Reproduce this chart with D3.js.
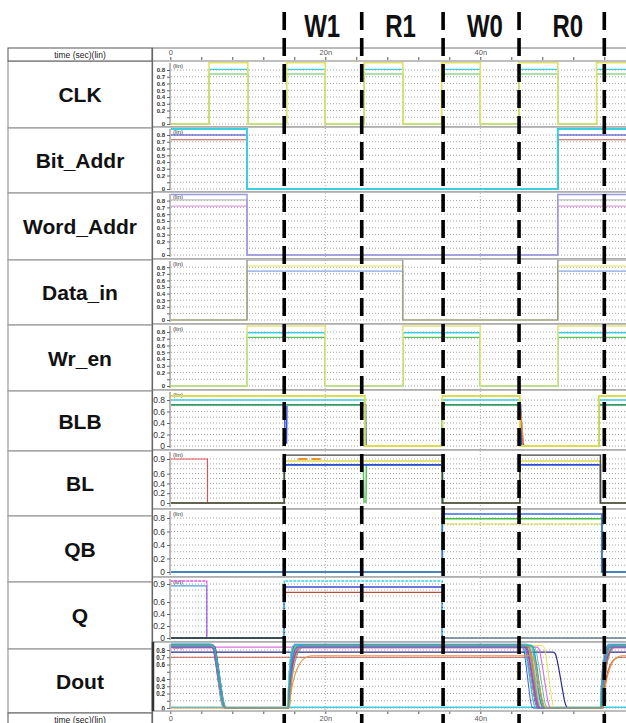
<!DOCTYPE html>
<html><head><meta charset="utf-8">
<script src="https://cdn.jsdelivr.net/npm/d3@7"></script>
<style>body{margin:0;background:#fff}svg{display:block}</style>
</head><body>
<svg id="c" width="626" height="723"></svg>
<script>
// ================= DATA =================
const signalNames = ["CLK","Bit_Addr","Word_Addr","Data_in","Wr_en","BLB","BL","QB","Q","Dout"];
const phaseNames = ["W1","R1","W0","R0"];
const phaseLabelTimes = [19.6, 29.7, 40.6, 51.3];
const phaseBoundaryTimes = [14.7, 24.7, 35.2, 45.0, 56.0];
const timeTicks = [0,4,8,12,16,20,24,28,32,36,40,44,48,52,56];
const timeTickLabels = {0:"0", 20:"20n", 40:"40n"};

// y tick values / labels per panel
const yTicks8 = [0,0.1,0.2,0.3,0.4,0.5,0.6,0.7,0.8];
const yLabels8 = ["0","","0.2","0.3","0.4","0.5","0.6","0.7","0.8"];
const yTicksEven = [0,0.2,0.4,0.6,0.8];
const yLabelsEven = ["0","0.2","0.4","0.6","0.8"];
const yTicksNine = [0,0.2,0.4,0.6,0.9];
const yLabelsNine = ["0","0.2","0.4","0.6","0.9"];
const yTicksDout = [0,0.1,0.2,0.3,0.4,0.5,0.6,0.7,0.8];
const yLabelsDout = ["0","","0.2","0.3","0.4","","0.6","0.7","0.8"];
const gridTo08 = [0.1,0.2,0.3,0.4,0.5,0.6,0.7,0.8];
const gridTo09 = [0.1,0.2,0.3,0.4,0.5,0.6,0.7,0.8,0.9];

// digital waveforms: switching times (ns) and high levels (V)
const clkEdges = [5,10,15,20,25,30,35,40,45,50,55];      // starts low
const clkLevels = [0.74, 0.81, 0.91];                    // green, cyan, yellow
const bitAddrEdges = [9.9, 50];                          // starts high
const bitAddrLevels = [0.73, 0.80, 0.89];                // red, blue, cyan
const wordAddrEdges = [9.9, 50];                         // starts high
const wordAddrLevels = [0.72, 0.81, 0.89];               // pink, gray, lavender
const dataInEdges = [9.9, 30, 50];                       // starts low
const dataInLevels = [0.74, 0.82, 0.91];                 // light blue, yellow, gray
const wrEnEdges = [9.9, 20, 30, 40, 50];                 // starts low
const wrEnLevels = [0.72, 0.79, 0.89];                   // green, cyan, yellow
const blbEdges = [25.1, 35.1, 45.1, 55.3];               // starts high
const blbLevels = [0.71, 0.80, 0.87];                    // green, cyan, yellow
const blbBlue = [[0,0.72],[14.75,0.72],[14.8,0.05],[15.0,0.05],[15.05,0.72],[25.2,0.72],[25.25,0],[35.0,0],[35.05,0.72],[45.2,0.72],[45.35,0],[55.3,0],[55.35,0.72],[60,0.72]];
const blbRed = [[44.9,0.70],[45.15,0.68],[45.45,0.15],[45.6,0]];
const blbOrange = [[45.0,0.62],[45.3,0.5],[45.55,0.05]];
const blEdges = [14.7, 35.1, 45.1, 55.5];                // starts low
const blLevels = [0.78, 0.86, 0.98];                     // blue, yellow, dark
const blRed = [[0,0.9],[4.8,0.9],[4.8,0],[14.6,0]];
const blGreen = [[14.7,0],[14.75,0.78],[24.9,0.78],[25.0,0.02],[25.25,0.02],[25.3,0.78],[35.1,0.78],[35.2,0]];
const blOrangeDash1 = [[16.5,0.9],[17.7,0.9]];
const blOrangeDash2 = [[18.2,0.9],[19.4,0.9]];
const qbEdges = [35.1, 55.7];                            // starts low
const qbLevels = [0.71, 0.79, 0.86];                     // yellow, green, blue
const qEdges = [14.7, 35.1];                             // starts low
const qLevels = [0.76, 0.85, 0.95];                      // red, blue, cyan
const qMagentaInit = [[0,0.95],[4.7,0.95],[4.7,0]];
const qLightBlueInit = [[0,0.87],[4.7,0.87],[4.7,0]];
const qLowDark = [[0,0],[14.7,0]];
const qLowLater = [[35.5,0],[60,0]];

// Dout: bundle of output traces (edge start times and durations, ns)
const doutLevel  = [0.87,0.85,0.86,0.84,0.86,0.83,0.88,0.85,0.84,0.87,0.86,0.85,0.83,0.86,0.87,0.84,0.85,0.86,0.84,0.87];
const doutFall1  = [5.2,5.25,5.3,5.35,5.22,5.4,5.28,5.45,5.33,5.5,5.38,5.27,5.42,5.31,5.36,5.24,5.47,5.29,5.34,5.41];
const doutFall1D = [1.7,1.8,1.6,1.9,1.75,1.7,1.85,1.65,1.8,1.7,1.9,1.75,1.8,1.7,1.6,1.85,1.7,1.8,1.75,1.65];
const doutRise1  = [15.15,15.2,15.1,15.25,15.3,15.18,15.22,15.12,15.28,15.2,15.35,15.16,15.24,15.3,15.14,15.26,15.2,15.32,15.18,15.22];
const doutRise1D = [0.9,1.1,1.3,1.0,1.6,1.2,0.8,1.4,1.8,1.0,2.2,1.1,1.5,1.3,0.9,1.7,1.2,2.0,1.4,1.0];
const doutFall2  = [45.3,45.5,48.0,45.4,45.8,45.7,46.0,45.9,46.2,45.5,46.4,46.1,45.6,46.6,46.3,45.8,46.8,46.0,45.7,46.5];
const doutFall2D = [1.5,1.7,1.6,1.8,1.6,1.9,1.7,1.8,1.6,2.0,1.7,1.8,1.9,1.7,1.6,1.8,1.9,1.7,2.0,1.8];
const doutRise2  = [55.5,55.6,55.55,55.7,55.65,55.6,55.75,55.5,55.8,55.6,55.7,55.55,55.65,55.8,55.6,55.7,55.5,55.75,55.6,55.65];
const doutRise2D = [1.0,1.3,0.9,1.6,1.1,1.8,0.8,1.2,1.5,1.0,2.0,1.1,1.4,1.7,0.9,1.3,1.2,1.9,1.0,1.5];
// special Dout traces: [level, fall start, fall dur, rise start, rise dur]
const doutPink   = [0.84, 47.3, 1.8, 55.6, 1.1];
const doutNavy   = [0.77, 49.4, 1.9, 55.6, 1.3];
const doutRed    = [0.70, 46.2, 2.0, 55.7, 2.3];
const doutOrange = [0.72, 15.3, 3.0, 46.5, 2.0, 55.8, 2.5];
const doutCyanTopInit = [[0,0.88],[5.2,0.88]];
const doutCyanLow = [[0,0.01],[60,0.01]];
// edge shapes (fraction of duration, fraction of swing)
const fallShape = [[0,0],[0.15,0.03],[0.35,0.25],[0.6,0.62],[0.8,0.9],[1,1]];
const riseShape = [[0,0],[0.1,0.32],[0.25,0.62],[0.45,0.84],[0.7,0.96],[1,1]];

// ================= LAYOUT / STYLE =================
const W = 626, H = 723, tEnd = 60;
const leftSeps  = [61,128,193,260,325,391,451,516,582,649,713];
const rightSeps = [61,127,192,259,324,390,450,509,577,642,711];
const yZero  = [124,189,255,320,386,446,503,572,638,708];
const pxPerV = [67.5,67.5,68,66,67.5,57.5,48.9,67.5,60,72.5];
const C = {yellow:"#dcdc50", cyan:"#3ccfdf", green:"#58c458", blue:"#3636c4", red:"#c85656",
  lav:"#9898e4", gray:"#bdbdbd", pink:"#e49ce4", dgray:"#6e6e6e", lblue:"#84a4e4", dark:"#3a3a3a",
  magenta:"#e050e0", orange:"#e8923c", navy:"#2a2a90", lightblue:"#4aa0e0"};
const bundleColors = ["#3040e0","#20b040","#e0e040","#30d0e0","#8040d0","#e040c0","#2080ff","#60d060","#d03030","#2020a0",
  "#20a0a0","#c0c020","#f080c0","#4060c0","#80e0e0","#a040a0","#40c080","#e08040","#6060ff","#00c0c0"];

const x = d3.scaleLinear().domain([0,40]).range([170.3, 480.3]);

function stepPts(edges, startHigh, hi){
  const pts=[[0,startHigh?hi:0]]; let s=startHigh;
  edges.forEach(e=>{pts.push([e,s?hi:0]); s=!s; pts.push([e,s?hi:0]);});
  pts.push([tEnd,s?hi:0]); return pts;
}
function edge(t0,dur,from,to,shape){ return shape.map(([f,v])=>[t0+f*dur, from+(to-from)*v]); }
function bundleTrace(i){
  const L=doutLevel[i];
  return [[0,L]].concat(edge(doutFall1[i],doutFall1D[i],L,0,fallShape),
    edge(doutRise1[i],doutRise1D[i],0,L,riseShape),
    edge(doutFall2[i],doutFall2D[i],L,0,fallShape),
    edge(doutRise2[i],doutRise2D[i],0,L,riseShape),[[tEnd,L]]);
}
function specialTrace(a){
  return [[0,a[0]]].concat(edge(a[1],a[2],a[0],0,fallShape),edge(a[3],a[4],0,a[0],riseShape),[[tEnd,a[0]]]);
}
const T=(pts,c,w,extra)=>Object.assign({pts,c,w:w||1.2},extra||{});

const panelTraces = [
  [T(stepPts(clkEdges,false,clkLevels[0]),C.green,1.1),T(stepPts(clkEdges,false,clkLevels[1]),C.cyan,1.1),T(stepPts(clkEdges,false,clkLevels[2]),"#e2e262",1.6)],
  [T(stepPts(bitAddrEdges,true,bitAddrLevels[0]),C.red),T(stepPts(bitAddrEdges,true,bitAddrLevels[1]),C.blue),T(stepPts(bitAddrEdges,true,bitAddrLevels[2]),C.cyan,2)],
  [T(stepPts(wordAddrEdges,true,wordAddrLevels[0]),C.pink),T(stepPts(wordAddrEdges,true,wordAddrLevels[1]),C.gray),T(stepPts(wordAddrEdges,true,wordAddrLevels[2]),C.lav,1.5)],
  [T(stepPts(dataInEdges,false,dataInLevels[0]),C.lblue),T(stepPts(dataInEdges,false,dataInLevels[1]),"#eeee90",1.5),T(stepPts(dataInEdges,false,dataInLevels[2]),"#8a8a8a")],
  [T(stepPts(wrEnEdges,false,wrEnLevels[0]),C.green,1.4),T(stepPts(wrEnEdges,false,wrEnLevels[1]),C.cyan,1.4),T(stepPts(wrEnEdges,false,wrEnLevels[2]),"#e4e47a",1.6)],
  [T(blbBlue,"#2b4bd8",1.4),T(stepPts(blbEdges,true,blbLevels[0]),C.green,1.6),T(stepPts(blbEdges,true,blbLevels[1]),C.cyan,1.5),T(blbRed,C.red,1.5),T(blbOrange,C.orange,1.2),T(stepPts(blbEdges,true,blbLevels[2]),C.yellow,1.8)],
  [T(blRed,"#e05050"),T(blGreen,C.green,1.5),T(stepPts(blEdges,false,blLevels[0]),"#2b4bd8",1.6),T(stepPts(blEdges,false,blLevels[1]),C.yellow,1.5),T(stepPts(blEdges,false,blLevels[2]),"#444",1.4),T(blOrangeDash1,C.orange,2),T(blOrangeDash2,C.orange,2)],
  [T(stepPts(qbEdges,false,qbLevels[0]),C.yellow,1.5,{dash:"3,1"}),T(stepPts(qbEdges,false,qbLevels[1]),"#40c040",1.5),T(stepPts(qbEdges,false,qbLevels[2]),"#3a6ee0",1.6)],
  [T(qLightBlueInit,C.lightblue,1.3),T(qMagentaInit,C.magenta,1.3,{dash:"3,1"}),T(stepPts(qEdges,false,qLevels[0]),"#b84a3a",1.4),T(stepPts(qEdges,false,qLevels[1]),"#3a4ad0",1.4),T(stepPts(qEdges,false,qLevels[2]),C.cyan,1.4,{dash:"3,1"}),T(qLowDark,"#333",1.5),T(qLowLater,"#999",1.5)],
  []
];
// Dout traces
(function(){
  const d=panelTraces[9];
  d.push(T(doutCyanLow,C.cyan,1.5));
  d.push(T(specialTrace(doutRed),"#c06050",1.2,{curve:true}));
  d.push(T(specialTrace(doutNavy),C.navy,1.2,{curve:true}));
  d.push(T(specialTrace(doutPink),"#e070e0",1.2,{curve:true}));
  d.push(T(doutCyanTopInit,C.cyan,1.5));
  doutLevel.forEach((_,i)=>d.push(T(bundleTrace(i),bundleColors[i],0.9,{curve:true})));
  const o=doutOrange;
  d.push(T([[0,0],[o[1]-0.01,0]].concat(edge(o[1],o[2],0,o[0],riseShape),edge(o[3],o[4],o[0],0,fallShape),edge(o[5],o[6],0,o[0],riseShape),[[tEnd,o[0]]]),C.orange,1.1,{curve:true}));
})();
const yTickSets = [[yTicks8,yLabels8],[yTicks8,yLabels8],[yTicks8,yLabels8],[yTicks8,yLabels8],[yTicks8,yLabels8],
  [yTicksEven,yLabelsEven],[yTicksNine,yLabelsNine],[yTicksEven,yLabelsEven],[yTicksNine,yLabelsNine],[yTicksDout,yLabelsDout]];
const gridSets = [gridTo08,gridTo08,gridTo08,gridTo08,gridTo08,gridTo08,gridTo09,gridTo08,gridTo09,gridTo08];
const tickFont = [6,6,6,6,6,8.5,8.5,8.5,8.5,6.3];

// ================= DRAW =================
const svg = d3.select("#c");
const defs = svg.append("defs");
const FONT = "'Liberation Sans', Arial, sans-serif";

// left label column
signalNames.forEach((n,i)=>{
  svg.append("rect").attr("x",8).attr("y",leftSeps[i]).attr("width",144).attr("height",leftSeps[i+1]-leftSeps[i])
    .attr("fill","#fff").attr("stroke","#9a9a9a").attr("stroke-width",1.2);
  svg.append("text").attr("x",80).attr("y",(leftSeps[i]+leftSeps[i+1])/2).attr("dy","0.36em")
    .attr("text-anchor","middle").attr("font-family",FONT).attr("font-weight","bold").attr("font-size",21)
    .attr("fill","#111").text(n);
});
[[48,61],[713,726]].forEach(([a,b])=>{
  svg.append("rect").attr("x",8).attr("y",a).attr("width",144).attr("height",b-a).attr("fill","#fff").attr("stroke","#555").attr("stroke-width",1);
  svg.append("text").attr("x",80).attr("y",a+9.5).attr("text-anchor","middle").attr("font-family",FONT).attr("font-size",8.5).attr("fill","#222").text("time (sec)(lin)");
});

// time axes rows
svg.append("line").attr("x1",152).attr("x2",W).attr("y1",48).attr("y2",48).attr("stroke","#777");
const axTop = d3.axisTop(x).tickValues(timeTicks).tickSize(3).tickFormat(d=>timeTickLabels[d]||"");
const gTop = svg.append("g").attr("transform","translate(0,60)").call(axTop);
const axBot = d3.axisBottom(x).tickValues(timeTicks).tickSize(3).tickFormat(d=>timeTickLabels[d]||"");
const gBot = svg.append("g").attr("transform","translate(0,711)").call(axBot);
[gTop,gBot].forEach(g=>{
  g.select(".domain").remove();
  g.selectAll("line").attr("stroke","#555");
  g.selectAll("text").attr("font-family",FONT).attr("font-size",7.5).attr("fill","#555");
});
gTop.selectAll("text").attr("dy","0.1em");
gBot.selectAll("text").attr("dy","0.55em");

// panels
signalNames.forEach((n,i)=>{
  const top=rightSeps[i], bot=rightSeps[i+1];
  const y=d3.scaleLinear().domain([0,1]).range([yZero[i], yZero[i]-pxPerV[i]]);
  const g=svg.append("g");
  g.append("rect").attr("x",152).attr("y",top).attr("width",W-152).attr("height",bot-top).attr("fill","#fff");
  // grid
  g.selectAll(".hg").data([0].concat(gridSets[i])).enter().append("line")
    .attr("x1",171).attr("x2",W).attr("y1",d=>y(d)).attr("y2",d=>y(d))
    .attr("stroke","#8c8c8c").attr("stroke-width",0.8).attr("stroke-dasharray","1,2");
  g.selectAll(".vg").data([20,40]).enter().append("line")
    .attr("x1",d=>x(d)).attr("x2",d=>x(d)).attr("y1",top+1).attr("y2",bot-1)
    .attr("stroke","#9a9a9a").attr("stroke-width",0.8).attr("stroke-dasharray","1,2");
  // y axis
  const [tv,tl]=yTickSets[i];
  const ax=d3.axisLeft(y).tickValues(tv).tickSize(3).tickFormat((d,j)=>tl[j]);
  const ga=g.append("g").attr("transform","translate(170,0)").call(ax);
  ga.select(".domain").attr("d",`M0,${top+2}V${bot-2}`).attr("stroke","#777");
  ga.selectAll("line").attr("stroke","#666");
  ga.selectAll("text").attr("font-family",FONT).attr("font-size",tickFont[i]).attr("font-weight",i<5||i===9?"bold":"normal").attr("fill","#333").attr("dx","1");
  g.append("text").attr("x",173).attr("y",top+7).attr("font-family",FONT).attr("font-size",6).attr("fill","#333").text("(lin)");
  // traces
  defs.append("clipPath").attr("id","cp"+i).append("rect").attr("x",171).attr("y",top+1).attr("width",W-171).attr("height",bot-top-2);
  const tg=g.append("g").attr("clip-path",`url(#cp${i})`);
  panelTraces[i].forEach(tr=>{
    const ln=d3.line().x(d=>x(d[0])).y(d=>y(d[1])).curve(tr.curve?d3.curveMonotoneX:d3.curveLinear);
    tg.append("path").attr("d",ln(tr.pts)).attr("fill","none").attr("stroke",tr.c)
      .attr("stroke-width",tr.w).attr("stroke-dasharray",tr.dash||null);
  });
  // panel borders
  g.append("line").attr("x1",152).attr("x2",W).attr("y1",top).attr("y2",top).attr("stroke","#a8a8a8").attr("stroke-width",1.6);
  g.append("line").attr("x1",152).attr("x2",W).attr("y1",bot).attr("y2",bot).attr("stroke","#a8a8a8").attr("stroke-width",1.6);
});
svg.append("line").attr("x1",152.5).attr("x2",152.5).attr("y1",48).attr("y2",H).attr("stroke","#666").attr("stroke-width",1.2);
svg.append("line").attr("x1",153).attr("x2",153).attr("y1",642).attr("y2",711).attr("stroke","#333").attr("stroke-width",2.5);

// phase boundaries and labels
svg.selectAll(".pb").data(phaseBoundaryTimes).enter().append("line")
  .attr("x1",d=>x(d)).attr("x2",d=>x(d)).attr("y1",12).attr("y2",H)
  .attr("stroke","#000").attr("stroke-width",3.6).attr("stroke-dasharray","18,8");
svg.selectAll(".pl").data(phaseNames).enter().append("text")
  .attr("transform",(d,i)=>`translate(${x(phaseLabelTimes[i])},37) scale(1,1.27)`)
  .attr("text-anchor","middle").attr("font-family",FONT).attr("font-weight","bold").attr("font-size",24)
  .attr("fill","#111").text(d=>d);
</script>
</body></html>
